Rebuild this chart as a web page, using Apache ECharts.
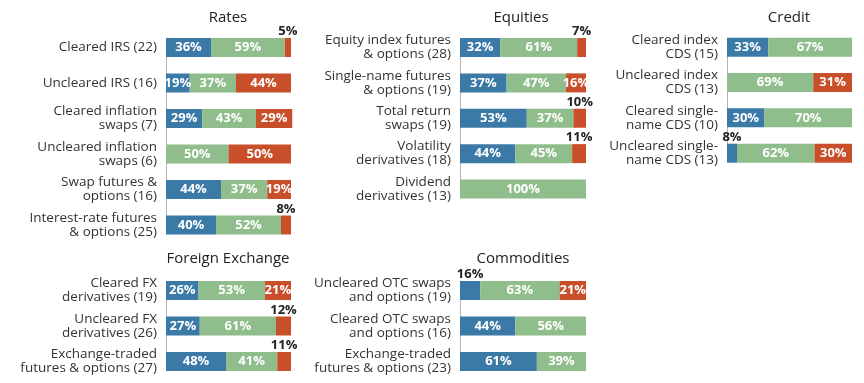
<!DOCTYPE html>
<html>
<head>
<meta charset="utf-8">
<script src="https://cdn.jsdelivr.net/npm/echarts@6/dist/echarts.min.js"></script>
<style>
html,body{margin:0;padding:0;background:#fff;}
#main{width:864px;height:383px;}
</style>
</head>
<body>
<div id="main"></div>
<script>
// ---- data ----
const panelTitles = ['Rates', 'Equities', 'Credit', 'Foreign Exchange', 'Commodities'];
const seriesNames = ['Blue', 'Green', 'Red'];

const ratesCats = ['Cleared IRS (22)', 'Uncleared IRS (16)', 'Cleared inflation\nswaps (7)', 'Uncleared inflation\nswaps (6)', 'Swap futures &\noptions (16)', 'Interest-rate futures\n& options (25)'];
const ratesBlue = [36, 19, 29, 0, 44, 40];
const ratesGreen = [59, 37, 43, 50, 37, 52];
const ratesRed = [5, 44, 29, 50, 19, 8];

const equitiesCats = ['Equity index futures\n& options (28)', 'Single-name futures\n& options (19)', 'Total return\nswaps (19)', 'Volatility\nderivatives (18)', 'Dividend\nderivatives (13)'];
const equitiesBlue = [32, 37, 53, 44, 0];
const equitiesGreen = [61, 47, 37, 45, 100];
const equitiesRed = [7, 16, 10, 11, 0];

const creditCats = ['Cleared index\nCDS (15)', 'Uncleared index\nCDS (13)', 'Cleared single-\nname CDS (10)', 'Uncleared single-\nname CDS (13)'];
const creditBlue = [33, 0, 30, 8];
const creditGreen = [67, 69, 70, 62];
const creditRed = [0, 31, 0, 30];

const fxCats = ['Cleared FX\nderivatives (19)', 'Uncleared FX\nderivatives (26)', 'Exchange-traded\nfutures & options (27)'];
const fxBlue = [26, 27, 48];
const fxGreen = [53, 61, 41];
const fxRed = [21, 12, 11];

const commCats = ['Uncleared OTC swaps\nand options (19)', 'Cleared OTC swaps\nand options (16)', 'Exchange-traded\nfutures & options (23)'];
const commBlue = [16, 44, 61];
const commGreen = [63, 56, 39];
const commRed = [21, 0, 0];

// labels drawn above the bar (panel, row, series index)
const outsideLabels = [
  [0, 0, 2], [0, 5, 2],
  [1, 0, 2], [1, 2, 2], [1, 3, 2],
  [2, 3, 0],
  [3, 1, 2], [3, 2, 2],
  [4, 0, 0]
];

// ---- layout (positions / styles) ----
const colors = ['#3b79a7', '#90bd8c', '#c94f2a'];
const FONT = '"Open Sans", "Noto Sans", sans-serif';
// grids span first-bar centre to last-bar centre (boundaryGap false)
const panels = [
  {cats: ratesCats, vals: [ratesBlue, ratesGreen, ratesRed], grid: {left: 166, width: 125, top: 47.5, height: 177.5}, title: [228, 18]},
  {cats: equitiesCats, vals: [equitiesBlue, equitiesGreen, equitiesRed], grid: {left: 460, width: 126, top: 47.5, height: 141.5}, title: [521, 18]},
  {cats: creditCats, vals: [creditBlue, creditGreen, creditRed], grid: {left: 727, width: 125, top: 47.2, height: 106}, title: [789, 18]},
  {cats: fxCats, vals: [fxBlue, fxGreen, fxRed], grid: {left: 166, width: 125, top: 290.5, height: 71}, title: [228, 259]},
  {cats: commCats, vals: [commBlue, commGreen, commRed], grid: {left: 460, width: 126, top: 290.5, height: 71}, title: [523, 259]}
];

function isOutside(p, r, s) {
  return outsideLabels.some(o => o[0] === p && o[1] === r && o[2] === s);
}

const grid = [], xAxis = [], yAxis = [], series = [], graphic = [];
panels.forEach((pn, p) => {
  grid.push(Object.assign({containLabel: false}, pn.grid));
  xAxis.push({type: 'value', gridIndex: p, min: 0, max: 100, show: false});
  yAxis.push({
    type: 'category', gridIndex: p, data: pn.cats, inverse: true, boundaryGap: false,
    axisLine: {show: true, lineStyle: {color: '#b5b5b5', width: 1}},
    axisTick: {show: false},
    axisLabel: {color: '#333', fontSize: 13.5, lineHeight: 14, margin: 9, fontFamily: FONT}
  });
  pn.vals.forEach((arr, s) => {
    series.push({
      type: 'bar', name: seriesNames[s], xAxisIndex: p, yAxisIndex: p,
      stack: 'p' + p, barWidth: 19, clip: false,
      itemStyle: {color: colors[s]},
      label: {
        show: true, position: 'inside', color: '#fff', fontWeight: 'bold',
        fontSize: 13, fontFamily: FONT,
        formatter: d => (d.value > 0 ? d.value + '%' : '')
      },
      data: arr.map((v, r) => isOutside(p, r, s)
        ? {value: v, label: {position: 'top', color: '#222', distance: 0}}
        : v)
    });
  });
  graphic.push({
    type: 'text', x: pn.title[0], y: pn.title[1],
    style: {text: panelTitles[p], textAlign: 'center', textVerticalAlign: 'middle',
      font: '15px ' + FONT, fill: '#222'}
  });
});

const chart = echarts.init(document.getElementById('main'), null, {renderer: 'canvas'});
chart.setOption({
  animation: false,
  backgroundColor: '#fff',
  grid, xAxis, yAxis, series, graphic
});
</script>
</body>
</html>
